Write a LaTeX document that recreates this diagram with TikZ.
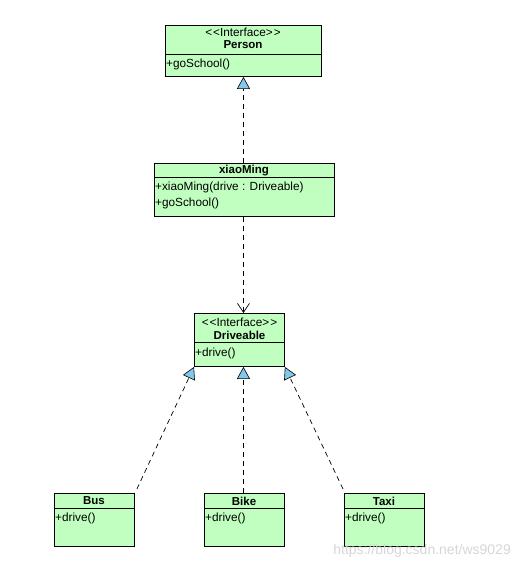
\documentclass[tikz,border=0pt]{standalone}
\usepackage{fontspec}
\setmainfont{Liberation Sans}
\usetikzlibrary{arrows.meta}
\definecolor{boxfill}{RGB}{192,255,192}
\definecolor{tipfill}{RGB}{130,200,235}
\definecolor{wm}{RGB}{215,215,215}
\tikzset{
  umlbox/.style={draw=black, fill=boxfill, line width=0.9pt, rectangle, anchor=north west, inner sep=0pt},
  txt/.style={font=\fontsize{11.8}{14}\selectfont, inner sep=0pt},
  bold/.style={font=\fontsize{11.5}{14}\selectfont\bfseries, inner sep=0pt},
  divider/.style={draw=black, line width=0.9pt},
  realize/.style={draw=black, line width=0.7pt, dash pattern=on 5pt off 4pt,
    -{Triangle[length=12pt,width=13pt,fill=tipfill,line width=0.6pt,sep=0pt]}},
  depend/.style={draw=black, line width=0.7pt, dash pattern=on 5pt off 4pt,
    -{Straight Barb[length=9pt,width=12pt,line width=0.7pt]}},
}
\begin{document}
\begin{tikzpicture}[x=1pt,y=-1pt]
\useasboundingbox (0,0) rectangle (520,569);
\fill[white] (0,0) rectangle (520,569);

% Person
\node[umlbox, minimum width=156pt, minimum height=51pt] (person) at (165,25) {};
\node[txt] (personst) at (243,32) {<\kern1pt<Interface>\kern1pt>};
\node[bold] (personname) at (243,45) {Person};
\draw[divider] (165,54) -- (321,54);
\node[txt, anchor=west] (personm) at (166,64) {+goSchool()};

% xiaoMing
\node[umlbox, minimum width=180pt, minimum height=53pt] (xm) at (154,163) {};
\node[bold] (xmname) at (244,170.5) {xiaoMing};
\draw[divider] (154,177) -- (334,177);
\node[txt, anchor=west] (xmm1) at (155,187.5) {+xiaoMing(drive : Driveable)};
\node[txt, anchor=west] (xmm2) at (155,203) {+goSchool()};

% Driveable
\node[umlbox, minimum width=90pt, minimum height=53pt] (drv) at (194,313) {};
\node[txt] (drvst) at (239.5,322) {<\kern1pt<Interface>\kern1pt>};
\node[bold] (drvname) at (239.5,335) {Driveable};
\draw[divider] (194,342) -- (284,342);
\node[txt, anchor=west] (drvm) at (195,353) {+drive()};

% Bus
\node[umlbox, minimum width=80pt, minimum height=53pt] (bus) at (54,493) {};
\node[bold] (busname) at (94,501) {Bus};
\draw[divider] (54,508.5) -- (134,508.5);
\node[txt, anchor=west] (busm) at (55,518) {+drive()};

% Bike
\node[umlbox, minimum width=80pt, minimum height=53pt] (bike) at (204,493) {};
\node[bold] (bikename) at (244,501) {Bike};
\draw[divider] (204,508.5) -- (284,508.5);
\node[txt, anchor=west] (bikem) at (205,518) {+drive()};

% Taxi
\node[umlbox, minimum width=80pt, minimum height=53pt] (taxi) at (344,493) {};
\node[bold] (taxiname) at (384,501) {Taxi};
\draw[divider] (344,508.5) -- (424,508.5);
\node[txt, anchor=west] (taxim) at (345,518) {+drive()};

% connectors
\draw[realize] (xm.north -| person.south) -- (person.south);
\draw[depend] ([xshift=4pt]xm.south -| drv.north) -- ([xshift=4pt]drv.north);
\draw[realize] ([xshift=2pt,yshift=4pt]bus.north east) -- (drv.south west);
\draw[realize] ([xshift=4pt]bike.north -| drv.south) -- ([xshift=4pt]drv.south);
\draw[realize] ([xshift=-1pt,yshift=4pt]taxi.north west) -- (drv.south east);

% watermark
\node[font=\fontsize{14}{16}\selectfont, text=wm, anchor=east, inner sep=0pt] (wmark) at (511,551) {https://blog.csdn.net/ws9029};
\end{tikzpicture}
\end{document}
